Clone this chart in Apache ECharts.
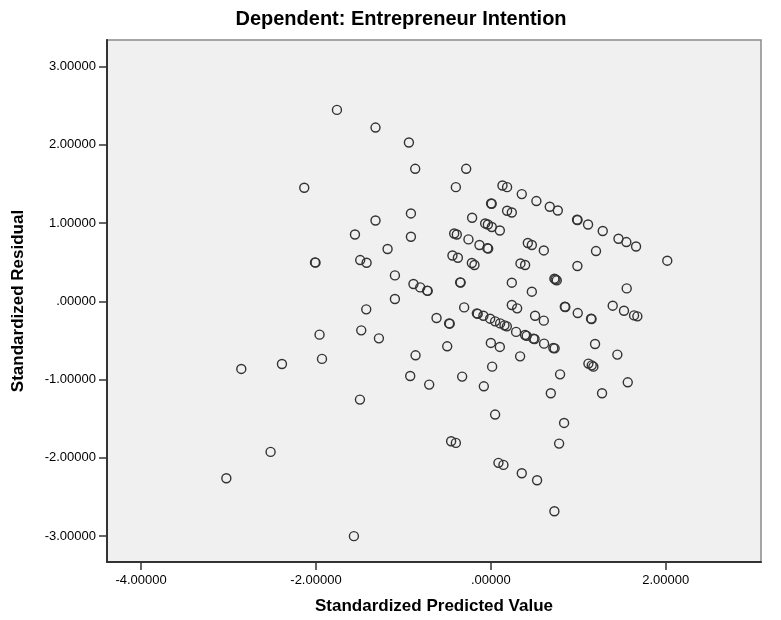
<!DOCTYPE html>
<html>
<head>
<meta charset="utf-8">
<script src="https://cdn.jsdelivr.net/npm/echarts@6/dist/echarts.min.js"></script>
<style>
html,body{margin:0;padding:0;background:#fff;}
#chart{width:781px;height:620px;}
</style>
</head>
<body>
<div id="chart"></div>
<script>
var titleText = "Dependent: Entrepreneur Intention";
var xAxisTitle = "Standardized Predicted Value";
var yAxisTitle = "Standardized Residual";
var xTicks = [-4, -2, 0, 2];
var yTicks = [-3, -2, -1, 0, 1, 2, 3];
var xRange = [-4.39, 3.09];
var yRange = [-3.33, 3.34];

var predicted = [
 -2.854,-2.389,-3.025,-2.519,
 -1.760,-1.319,-0.937,-0.865,-0.282,-2.134,-0.400,-0.914,-1.319,-0.214,-1.554,-0.914,-0.419,-0.389,-0.256,
 -0.130,-0.040,-0.030,-1.181,-0.439,-0.377,-0.217,-0.187,-2.011,-2.005,-1.494,-1.421,-1.097,-0.351,-0.345,-0.885,
 -0.808,-0.728,-0.722,-1.097,-0.305,-1.425,-0.621,-0.477,-0.470,-1.959,-1.482,-1.280,-0.499,-0.861,-1.931,-0.922,
 -0.705,-0.328,-0.080,-1.497,-0.454,-0.400,-1.566,
 0.133,0.186,0.354,0.521,0.674,0.766,0.003,0.010,0.186,0.240,0.986,0.992,1.112,1.280,1.460,
 -0.065,-0.034,0.011,0.103,0.423,0.469,0.606,1.203,0.339,0.392,0.990,0.240,0.727,0.740,0.754,0.469,
 -0.160,-0.150,-0.085,-0.008,0.049,0.106,0.156,0.183,0.240,0.301,0.506,0.606,0.846,0.852,0.994,1.146,1.152,1.394,
 0.289,0.392,0.410,0.487,0.500,0.609,0.715,0.730,
 0.000,0.103,0.335,1.192,1.447,1.116,1.154,1.173,0.015,0.792,0.686,1.272,0.049,0.838,0.781,
 0.087,0.144,0.354,0.529,0.727,
 1.550,1.661,2.018,1.554,1.523,1.638,1.676,1.566
];
var residual = [
 -0.863,-0.800,-2.260,-1.923,
 2.447,2.221,2.030,1.694,1.694,1.452,1.460,1.124,1.034,1.069,0.855,0.826,0.868,0.855,0.792,
 0.720,0.680,0.675,0.669,0.587,0.558,0.490,0.465,0.498,0.495,0.528,0.494,0.332,0.243,0.240,0.222,
 0.179,0.137,0.134,0.031,-0.077,-0.102,-0.212,-0.281,-0.285,-0.425,-0.370,-0.472,-0.574,-0.689,-0.735,-0.953,
 -1.063,-0.961,-1.085,-1.255,-1.787,-1.808,-3.000,
 1.481,1.460,1.371,1.282,1.209,1.162,1.251,1.248,1.158,1.136,1.043,1.040,0.983,0.899,0.800,
 0.996,0.983,0.950,0.906,0.746,0.720,0.651,0.643,0.485,0.465,0.452,0.239,0.290,0.280,0.268,0.124,
 -0.153,-0.160,-0.183,-0.221,-0.255,-0.281,-0.306,-0.319,-0.046,-0.089,-0.183,-0.246,-0.068,-0.072,-0.149,-0.221,-0.225,-0.055,
 -0.390,-0.430,-0.440,-0.476,-0.480,-0.540,-0.595,-0.600,
 -0.531,-0.582,-0.702,-0.544,-0.680,-0.795,-0.817,-0.834,-0.834,-0.932,-1.174,-1.174,-1.446,-1.553,-1.817,
 -2.063,-2.089,-2.196,-2.285,-2.681,
 0.758,0.702,0.520,0.166,-0.119,-0.179,-0.191,-1.034
];

function fmt(v){
  var s = Math.abs(v).toFixed(5);
  if (s.indexOf("0.") === 0) s = s.substring(1);
  return (v < 0 ? "-" : "") + s;
}

var points = predicted.map(function(x, i){ return [x, residual[i]]; });
var font = "'Liberation Sans', Arial, sans-serif";

var chart = echarts.init(document.getElementById('chart'), null, {renderer:'canvas'});
chart.setOption({
  animation: false,
  backgroundColor: '#ffffff',
  title: {
    text: titleText,
    left: 396, top: 4, textAlign: 'center',
    textStyle: {fontFamily: font, fontSize: 20, fontWeight: 'bold', color: '#000'}
  },
  grid: {
    left: 107, top: 40, right: 20, bottom: 57,
    show: true, backgroundColor: '#f0f0f0', borderColor: '#8a8a8a', borderWidth: 1.5
  },
  xAxis: {
    type: 'value', min: xRange[0], max: xRange[1],
    name: xAxisTitle, nameLocation: 'middle', nameGap: 36,
    nameTextStyle: {fontFamily: font, fontSize: 17, fontWeight: 'bold', color: '#000'},
    splitLine: {show: false},
    axisLine: {show: true, onZero: false, lineStyle: {color: '#333', width: 2}},
    axisTick: {show: true, length: 8, lineStyle: {color: '#333', width: 1.5}, customValues: xTicks},
    axisLabel: {fontFamily: font, fontSize: 13, color: '#000', margin: 12, customValues: xTicks, formatter: fmt}
  },
  yAxis: {
    type: 'value', min: yRange[0], max: yRange[1],
    name: yAxisTitle, nameLocation: 'middle', nameGap: 80, nameRotate: 90,
    nameTextStyle: {fontFamily: font, fontSize: 17, fontWeight: 'bold', color: '#000'},
    splitLine: {show: false},
    axisLine: {show: true, onZero: false, lineStyle: {color: '#333', width: 2}},
    axisTick: {show: true, length: 8, lineStyle: {color: '#333', width: 1.5}, customValues: yTicks},
    axisLabel: {fontFamily: font, fontSize: 13, color: '#000', margin: 11, customValues: yTicks, formatter: fmt}
  },
  series: [{
    type: 'scatter',
    data: points,
    symbol: 'circle',
    symbolSize: 9,
    itemStyle: {color: 'rgba(0,0,0,0)', borderColor: '#333', borderWidth: 1.4, opacity: 1},
    emphasis: {disabled: true}
  }]
});
</script>
</body>
</html>
